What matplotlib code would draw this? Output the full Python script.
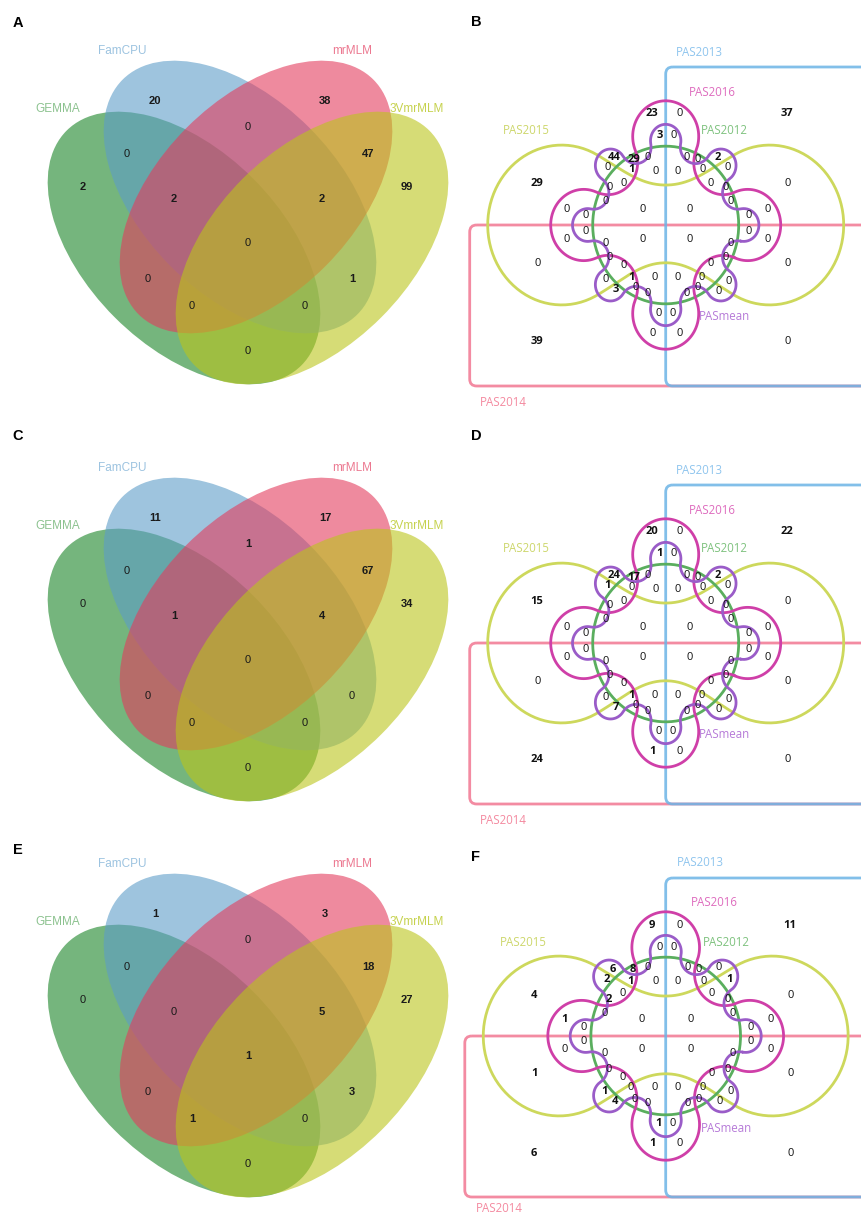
import numpy as np
import matplotlib.pyplot as plt
from matplotlib.patches import Ellipse, FancyBboxPatch

# ---- four-method Venn panels (A, C, E) ----
methods = ["FamCPU", "mrMLM", "GEMMA", "3VmrMLM"]
# region order: FamCPU, mrMLM, Fam&mr, GEMMA&Fam, mr&3V, GEMMA, GEMMA&Fam&mr,
# Fam&mr&3V, 3V, all four, GEMMA&mr, Fam&3V, GEMMA&mr&3V, GEMMA&Fam&3V, GEMMA&3V
counts_A = [20, 38, 0, 0, 47, 2, 2, 2, 99, 0, 0, 1, 0, 0, 0]
counts_C = [11, 17, 1, 0, 67, 0, 1, 4, 34, 0, 0, 0, 0, 0, 0]
counts_E = [1, 3, 0, 0, 18, 0, 0, 5, 27, 1, 0, 3, 1, 0, 0]

# ---- six-year Venn panels (B, D, F) ----
years = ["PAS2013", "PAS2016", "PAS2015", "PAS2012", "PASmean", "PAS2014"]
counts_B = [23, 0, 37, 3, 0, 44, 29, 0, 0, 0, 2, 0, 1, 0, 0, 0, 0,
            29, 0, 0, 0, 0, 0, 0, 0, 0, 0, 0, 0, 0, 0, 0, 0, 0, 0, 0, 0,
            0, 0, 0, 0, 0, 0, 0, 0, 1, 0, 0, 0, 0, 0, 3, 0, 0, 0, 0, 0,
            0, 0, 0, 0, 39, 0]
counts_D = [20, 0, 22, 1, 0, 24, 17, 0, 0, 0, 2, 1, 0, 0, 0, 0, 0,
            15, 0, 0, 0, 0, 0, 0, 0, 0, 0, 0, 0, 0, 0, 0, 0, 0, 0, 0, 0,
            0, 0, 0, 0, 0, 0, 0, 0, 1, 0, 0, 0, 0, 0, 7, 0, 0, 0, 0, 0,
            0, 0, 1, 0, 24, 0]
counts_F = [9, 0, 11, 0, 0, 6, 8, 0, 0, 0, 0, 2, 1, 0, 0, 0, 1,
            4, 0, 0, 0, 2, 0, 0, 0, 1, 0, 0, 0, 0, 0, 0, 0, 0, 0, 0, 0,
            0, 0, 0, 0, 1, 0, 0, 0, 0, 0, 0, 0, 1, 0, 4, 0, 0, 0, 0, 0,
            1, 0, 1, 0, 6, 0]

# layout of the 4-ellipse diagram (pixels)
ell_a, ell_b = 166, 98
ell_geom = [(240, 197, 45), (256, 197, -45), (184, 248, 45), (312, 248, -45)]
ell_draw_order = [2, 0, 1, 3]
ell_fill = ["#5d9dc8", "#e33c5d", "#1a8526", "#bbc51b"]
ell_text = ["#9cc3e0", "#ec7890", "#8cc28f", "#c6d24e"]
ell_label_xy = [(122, 51), (352, 51), (58, 109), (417, 109)]
spots4 = [(155, 101), (325, 101), (248, 127), (127, 154), (368, 154),
          (83, 187), (174, 199), (322, 199), (407, 187), (248, 243),
          (148, 279), (352, 279), (192, 306), (305, 306), (248, 351)]

# offsets of the 63 region labels around the centre of the 6-set diagram
spots6 = [(-14, -111), (14, -111), (121, -111),
          (-6, -89), (8, -89),
          (-52, -67), (-32, -66), (-18, -68), (21, -68), (32, -66), (52, -68),
          (-58, -57), (-34, -55), (-10, -54), (12, -54), (37, -55), (62, -57),
          (-129, -41), (-42, -42), (45, -42), (122, -41),
          (-56, -37), (60, -37),
          (-60, -23), (65, -23),
          (-99, -16), (-80, -9), (-23, -16), (24, -16), (83, -9), (102, -16),
          (-80, 6), (-99, 14), (-23, 14), (24, 14), (83, 6), (102, 14),
          (-60, 18), (65, 18),
          (-56, 33), (60, 33),
          (-128, 38), (122, 38), (-42, 41), (45, 38),
          (-34, 52), (-11, 52), (12, 52), (36, 52),
          (-60, 55), (63, 56),
          (-50, 65), (-30, 63), (-18, 68), (21, 68), (32, 63), (53, 66),
          (-7, 88), (7, 88),
          (-13, 108), (14, 108),
          (-129, 117), (122, 117)]
line_col = {"PAS2013": "#6cb4e6", "PAS2016": "#cf3fa8", "PAS2015": "#cdd85c",
            "PAS2012": "#5aae5e", "PASmean": "#9a5cc8", "PAS2014": "#f27f98"}
text_col = {"PAS2013": "#8fc5ee", "PAS2016": "#de6cbe", "PAS2015": "#cdd76c",
            "PAS2012": "#7fc27f", "PASmean": "#b67ad8", "PAS2014": "#f48aa0"}
year_label_xy = {"PAS2013": (34, -173), "PAS2016": (47, -133),
                 "PAS2015": (-139, -94), "PAS2012": (59, -94),
                 "PASmean": (59, 92), "PAS2014": (-162, 177)}


def cog(n, d_lobe, r_lobe, d_dent, pts=60):
    """closed chain of alternating convex / concave circular arcs"""
    ang = np.arange(n) * 2 * np.pi / n
    lobes = np.c_[np.cos(ang), np.sin(ang)] * d_lobe
    dents = np.c_[np.cos(ang + np.pi / n), np.sin(ang + np.pi / n)] * d_dent
    r_dent = np.linalg.norm(lobes[0] - dents[0]) - r_lobe
    out = []
    for k in range(n):
        L, Mp, M = lobes[k], dents[k - 1], dents[k]
        a0 = np.arctan2(*(Mp - L)[::-1])
        a1 = np.arctan2(*(M - L)[::-1])
        if a1 < a0:
            a1 += 2 * np.pi
        t = np.linspace(a0, a1, pts)
        out.append(L + r_lobe * np.c_[np.cos(t), np.sin(t)])
        Ln = lobes[(k + 1) % n]
        b0 = np.arctan2(*(L - M)[::-1])
        b1 = np.arctan2(*(Ln - M)[::-1])
        if b1 > b0:
            b1 -= 2 * np.pi
        t = np.linspace(b0, b1, pts)
        out.append(M + r_dent * np.c_[np.cos(t), np.sin(t)])
    out.append(out[0][:1])
    return np.vstack(out)


def bezier(p0, p1, p2, p3, n=40):
    t = np.linspace(0, 1, n)[:, None]
    p0, p1, p2, p3 = map(np.asarray, (p0, p1, p2, p3))
    return ((1 - t) ** 3 * p0 + 3 * (1 - t) ** 2 * t * p1
            + 3 * (1 - t) * t ** 2 * p2 + t ** 3 * p3)


def dumbbell(cx=104, r=74, junc=61, top=37, bot=-35):
    a = np.radians(junc)
    tl = np.array([-cx + r * np.cos(a), r * np.sin(a)])
    tan = np.array([np.sin(a), -np.cos(a)])
    bl = tl * [1, -1]
    segs = []
    t = np.linspace(a, 2 * np.pi - a, 120)
    segs.append(np.c_[-cx + r * np.cos(t), r * np.sin(t)])
    left = bezier(bl, bl + 30 * tan * [1, -1], (-25, bot), (0, bot))
    segs += [left, left[::-1] * [-1, 1]]
    t = np.linspace(np.pi + a, np.pi - a + 2 * np.pi, 120)
    segs.append(np.c_[cx + r * np.cos(t), r * np.sin(t)])
    right = bezier(tl * [-1, 1], tl * [-1, 1] + 30 * tan * [-1, 1], (25, top), (0, top))
    segs += [right, right[::-1] * [-1, 1]]
    return np.vstack(segs)


def draw_venn4(ax, oy, counts):
    for i in ell_draw_order:
        cx, cy, ang = ell_geom[i]
        ax.add_patch(Ellipse((cx, cy + oy), 2 * ell_a, 2 * ell_b, angle=ang,
                             fc=ell_fill[i], ec="none", alpha=0.6))
    for name, (x, y), c in zip(methods, ell_label_xy, ell_text):
        ax.text(x, y + oy, name, color=c, fontsize=8.5, ha="center", va="center",
                family="Liberation Sans")
    for v, (x, y) in zip(counts, spots4):
        ax.text(x, y + oy, str(v), fontsize=8, ha="center", va="center",
                color="#1a1a1a", family="Liberation Sans",
                fontweight="bold" if v else "normal")


def draw_venn6(ax, cx, cy, counts, sx=1.0, sy=1.08, low_label=None):
    def put(xy, **kw):
        ax.plot(cx + sx * xy[:, 0], cy - sy * xy[:, 1], solid_capstyle="round",
                lw=2, **kw)

    # the two half-plane sets as rounded rectangles
    ax.add_patch(FancyBboxPatch((cx - 196 * sx, cy), 420, 161,
                                boxstyle="round,pad=0,rounding_size=7",
                                fc="none", ec=line_col["PAS2014"], lw=2, alpha=0.9))
    ax.add_patch(FancyBboxPatch((cx, cy - 158), 420, 319,
                                boxstyle="round,pad=0,rounding_size=7",
                                fc="none", ec=line_col["PAS2013"], lw=2, alpha=0.85))
    put(dumbbell(), color=line_col["PAS2015"])
    t = np.linspace(0, 2 * np.pi, 300)
    put(np.c_[73 * np.cos(t), 73 * np.sin(t)], color=line_col["PAS2012"])
    put(cog(4, 82, 33, 81.6), color=line_col["PAS2016"])
    put(cog(8, 78, 15.2, 78), color=line_col["PASmean"])

    for name in years:
        dx, dy = year_label_xy[name]
        if name == "PAS2014" and low_label is not None:
            dy = low_label
        ax.text(cx + sx * dx, cy + dy, name, color=text_col[name], fontsize=8.3,
                ha="center", va="center", family="Open Sans")
    for v, (dx, dy) in zip(counts, spots6):
        ax.text(cx + sx * dx, cy + dy, str(v), fontsize=8, ha="center",
                va="center", color="#111111", family="Open Sans",
                fontweight="bold" if v else "normal")


fig = plt.figure(figsize=(8.61, 12.18), dpi=100)
ax = fig.add_axes([0, 0, 1, 1])
ax.set_xlim(0, 861)
ax.set_ylim(1218, 0)
ax.set_aspect("equal")
ax.axis("off")

draw_venn4(ax, 0, counts_A)
draw_venn4(ax, 417, counts_C)
draw_venn4(ax, 813, counts_E)

draw_venn6(ax, 665.7, 225, counts_B)
draw_venn6(ax, 665.7, 643, counts_D)
draw_venn6(ax, 665.7, 1036, counts_F, sx=1.025, low_label=173)

for letter, (x, y) in zip("ABCDEF", [(18, 23), (476, 22), (18, 436), (476, 436),
                                      (18, 850), (476, 857)]):
    ax.text(x, y, letter, fontsize=10.5, fontweight="bold", ha="center",
            va="center", family="Liberation Sans")

fig.savefig("out.png", dpi=100)
